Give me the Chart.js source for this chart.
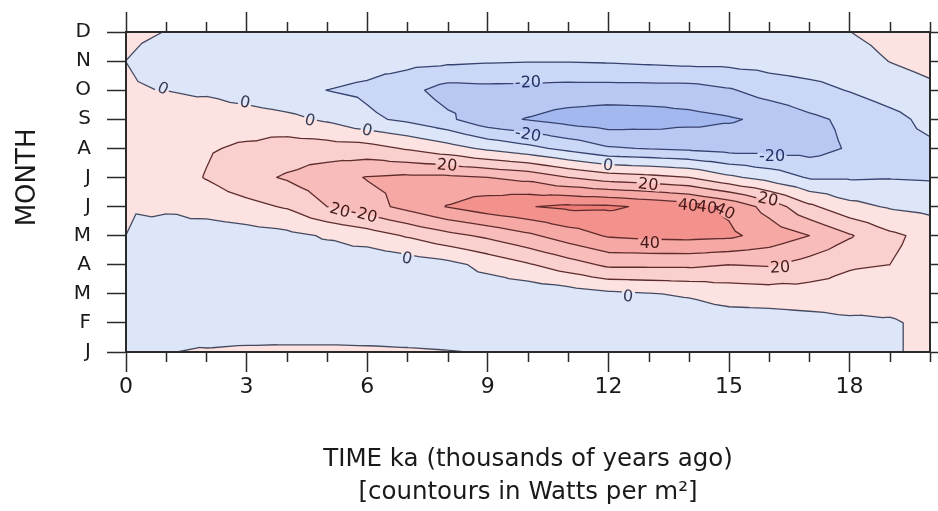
<!DOCTYPE html>
<html><head><meta charset="utf-8">
<script src="https://cdn.jsdelivr.net/npm/chart.js@4.4.1/dist/chart.umd.min.js"></script>
<style>html,body{margin:0;padding:0;background:#fff;}#wrap{width:938px;height:511px;}</style>
</head><body><div id="wrap"><canvas id="c" width="938" height="511" style="width:938px;height:511px"></canvas></div>
<script>
const FONT = "'DejaVu Sans', 'Open Sans', sans-serif";

// axes
const timeKa = [0,1,2,3,4,5,6,7,8,9,10,11,12,13,14,15,16,17,18,19,20];
const monthLabels = ['J','F','M','A','M','J','J','A','S','O','N','D'];
const xTickValues = [0,3,6,9,12,15,18];
const contourLevels = [-30,-20,-10,0,10,20,30,40,50];

// insolation anomaly (W/m^2), one array per month, by time (ka)
const janAnom = [-0.3,-0.3,0.8,1.5,1.8,1.8,1.5,1,0.4,-0.5,-3,-4,-5,-5,-4,-4,-3,-3,-2,-1,2];
const febAnom = [-0.4,-2.5,-5,-5,-5.5,-5.5,-5.5,-5.5,-6,-6,-6,-6.5,-7,-6.5,-6,-5,-5,-4,-2,-1,2];
const marAnom = [-0.4,-3,-5,-6,-6,-7,-7,-7,-6,-6.5,-7,-5,-2,-0.5,1,4,5,6,6,4,5];
const aprAnom = [-0.3,-3,-5,-6,-5,-6,-8,-6,-3,3,9,15.5,22,22,22,20,21,16,11,10,6];
const mayAnom = [-0.01,-3,-5.5,-4.3,-2.6,1,5,11,17,22,28,35,41,42.5,43,42,36,30,21,12,7];
const junAnom = [0.4,1,4,7,11,20,26,33,40.5,46,49.5,52,51.5,48.5,45,38,26,12,3,-1,-3];
const julAnom = [0.6,5,10.5,17,21,26,30.5,32,32,30,27,20,15,13,10,2,-4,-11,-11,-10.5,-11];
const augAnom = [0.6,4.5,9,11.6,15,14.5,13.7,9,4,-2,-7,-13,-19,-20.5,-22,-24,-24,-24,-19,-14,-12];
const sepAnom = [0.5,3,5.5,5,2.6,-1.5,-8,-12,-18,-27,-30.5,-34,-36,-35,-33,-31,-28,-22,-18,-13.3,-7];
const octAnom = [0.3,-0.1,-1.5,-5,-8,-10.05,-12,-17,-24,-23,-23.3,-24,-24,-24,-24,-21,-15.7,-13,-9.5,-5,-2];
const novAnom = [-0.01,-1,-1.5,-3,-4,-5,-6,-7,-8,-9,-9.5,-9.5,-9,-8,-7,-7,-6,-5,-4,0.2,3];
const decAnom = [0.5,-0.05,-0.5,-1,-1.5,-2,-2,-2.5,-3,-3,-3,-3,-3,-3,-3,-3,-3,-2,-0.1,3,6];

// contour labels
const labelText  = ['0','0','0','0','0','0','0','-20','-20','-20','20','20','20','20','20','40','40','40','40','20'];
const labelKa    = [0.92,2.96,4.58,6.0,11.99,6.99,12.49,10.0,10.0,16.07,7.99,12.99,15.97,5.32,6.0,13.98,14.45,14.9,13.03,16.27];
const labelMonth = [9.07,8.59,7.97,7.63,6.43,3.23,1.92,9.28,7.49,6.74,6.43,5.77,5.26,4.88,4.71,5.05,4.98,4.85,3.75,2.92];

const grid = [janAnom,febAnom,marAnom,aprAnom,mayAnom,junAnom,julAnom,augAnom,sepAnom,octAnom,novAnom,decAnom];
const labelAngle = [25,12,15,14,6,12,5,-2,10,0,5,6,12,16,16,5,8,25,0,-3];

const bandColors = ['#a3b8ef','#b8c8f3','#cbd7f6','#dde5f9','#fce2e1','#fad0cf','#f8bdba','#f5a8a4','#f3928d','#ee7b75'];

function fieldAt(k, m) {
  const nI = timeKa.length - 1, nJ = monthLabels.length - 1;
  let i = Math.min(Math.max(Math.floor(k), 0), nI - 1);
  let j = Math.min(Math.max(Math.floor(m), 0), nJ - 1);
  let u = Math.min(Math.max(k - i, 0), 1), v = Math.min(Math.max(m - j, 0), 1);
  const a = grid[j][i], b = grid[j][i+1], c = grid[j+1][i+1], d = grid[j+1][i];
  const e = (a + b + c + d) / 4;
  if (v <= u && u + v <= 1) return a + (b - a) * u + (2*e - a - b) * v;
  if (v <= u) return b + (c - b) * v + (u - 1) * (b + c - 2*e);
  if (u + v >= 1) return d + (c - d) * u + (v - 1) * (c + d - 2*e);
  return a + (d - a) * v + u * (2*e - a - d);
}
function bandOf(v) { let b = 0; while (b < contourLevels.length && v >= contourLevels[b]) b++; return b; }
function hexRgb(h) { return [parseInt(h.slice(1,3),16), parseInt(h.slice(3,5),16), parseInt(h.slice(5,7),16)]; }

const LABEL_FONT = `16px ${FONT}`;

const contourPlugin = {
  id: 'contour',
  beforeDraw(chart) {
    const ctx = chart.ctx, xs = chart.scales.x, ys = chart.scales.y;
    const {left, top, right, bottom} = chart.chartArea;
    const W = Math.round(right - left), H = Math.round(bottom - top);
    const off = document.createElement('canvas'); off.width = W; off.height = H;
    const octx = off.getContext('2d'); const img = octx.createImageData(W, H);
    const rgb = bandColors.map(hexRgb);
    for (let py = 0; py < H; py++) {
      const m = ys.getValueForPixel(top + py + 0.5);
      for (let px = 0; px < W; px++) {
        const k = xs.getValueForPixel(left + px + 0.5);
        const c = rgb[bandOf(fieldAt(k, m))];
        const idx = (py * W + px) * 4;
        img.data[idx] = c[0]; img.data[idx+1] = c[1]; img.data[idx+2] = c[2]; img.data[idx+3] = 255;
      }
    }
    octx.putImageData(img, 0, 0);
    ctx.drawImage(off, left, top);

    // label boxes
    ctx.font = LABEL_FONT;
    const boxes = labelText.map((t, n) => {
      const x = xs.getPixelForValue(labelKa[n]), y = ys.getPixelForValue(labelMonth[n]);
      const w = ctx.measureText(t).width + 3, h = 13;
      const a = labelAngle[n] * Math.PI / 180, ca = Math.cos(a), sa = Math.sin(a);
      const pts = [[-w/2,-h/2],[w/2,-h/2],[w/2,h/2],[-w/2,h/2]].map(([px,py]) => [x + px*ca - py*sa, y + px*sa + py*ca]);
      return {x, y, a, pts};
    });

    // contour lines (triangulated cells, linear within each triangle)
    ctx.save();
    ctx.beginPath();
    ctx.rect(left, top, right - left, bottom - top);
    boxes.forEach(b => { ctx.moveTo(b.pts[0][0], b.pts[0][1]); for (let q = 1; q < 4; q++) ctx.lineTo(b.pts[q][0], b.pts[q][1]); ctx.closePath(); });
    ctx.clip('evenodd');
    ctx.lineWidth = 1.3; ctx.lineCap = 'round';
    const P = (k, m) => [xs.getPixelForValue(k), ys.getPixelForValue(m)];
    contourLevels.forEach(L => {
      ctx.beginPath();
      for (let j = 0; j < monthLabels.length - 1; j++) {
        for (let i = 0; i < timeKa.length - 1; i++) {
          const a = grid[j][i], b = grid[j][i+1], c = grid[j+1][i+1], d = grid[j+1][i];
          const e = (a + b + c + d) / 4;
          const A = [timeKa[i], j], B = [timeKa[i+1], j], C = [timeKa[i+1], j+1], D = [timeKa[i], j+1];
          const E = [(timeKa[i] + timeKa[i+1]) / 2, j + 0.5];
          const tris = [[A,a,B,b,E,e],[B,b,C,c,E,e],[C,c,D,d,E,e],[D,d,A,a,E,e]];
          tris.forEach(t => {
            const pts = [[t[0], t[1]], [t[2], t[3]], [t[4], t[5]]].map(p => [p[0], p[1] === L ? L + 1e-6 : p[1]]);
            const cross = [];
            for (let s = 0; s < 3; s++) {
              const p1 = pts[s], p2 = pts[(s+1)%3];
              if ((p1[1] - L) * (p2[1] - L) < 0) {
                const f = (L - p1[1]) / (p2[1] - p1[1]);
                cross.push([p1[0][0] + f * (p2[0][0] - p1[0][0]), p1[0][1] + f * (p2[0][1] - p1[0][1])]);
              }
            }
            if (cross.length === 2) {
              const q1 = P(cross[0][0], cross[0][1]), q2 = P(cross[1][0], cross[1][1]);
              ctx.moveTo(q1[0], q1[1]); ctx.lineTo(q2[0], q2[1]);
            }
          });
        }
      }
      ctx.strokeStyle = L < 0 ? '#36426f' : (L === 0 ? '#454a60' : '#5e2c2c');
      ctx.stroke();
    });
    ctx.restore();

    // labels
    boxes.forEach((b, n) => {
      const t = labelText[n];
      ctx.save();
      ctx.translate(b.x, b.y); ctx.rotate(b.a);
      ctx.font = LABEL_FONT;
      ctx.textAlign = 'center'; ctx.textBaseline = 'middle';
      ctx.fillStyle = t === '0' ? '#353a55' : (t.startsWith('-') ? '#222f62' : '#431a1a');
      ctx.fillText(t, 0, 1);
      ctx.restore();
    });
  },
  afterDraw(chart) {
    const ctx = chart.ctx, xs = chart.scales.x, ys = chart.scales.y;
    const {top, bottom} = chart.chartArea;
    ctx.save();
    ctx.strokeStyle = '#2a2a2a'; ctx.lineWidth = 1.5;
    ctx.beginPath();
    timeKa.forEach(k => {
      if (xTickValues.includes(k)) return;
      const x = Math.round(xs.getPixelForValue(k)) + 0.5;
      ctx.moveTo(x, bottom); ctx.lineTo(x, bottom + 10);
      ctx.moveTo(x, top); ctx.lineTo(x, top - 10);
    });
    ctx.stroke();
    // y title
    ctx.translate(28, ys.getPixelForValue(6.0));
    ctx.rotate(-Math.PI / 2);
    ctx.font = `26px ${FONT}`; ctx.fillStyle = '#1a1a1a';
    ctx.textAlign = 'center'; ctx.textBaseline = 'middle';
    ctx.fillText('MONTH', 0, 0);
    ctx.restore();
  }
};

const axisGrid = {drawOnChartArea: false, tickColor: '#2a2a2a', tickWidth: 1.5};
const axisBorder = {color: '#2a2a2a', width: 2};

new Chart(document.getElementById('c'), {
  type: 'scatter',
  data: {datasets: [{data: [], pointRadius: 0}]},
  options: {
    responsive: false, animation: false, devicePixelRatio: 1,
    layout: {padding: 0},
    plugins: {legend: {display: false}, tooltip: {enabled: false}},
    scales: {
      x: {
        type: 'linear', position: 'bottom', min: 0, max: 20,
        afterBuildTicks: s => { s.ticks = xTickValues.map(v => ({value: v})); },
        ticks: {font: {family: FONT, size: 22}, color: '#1a1a1a', padding: 2, maxRotation: 0, autoSkip: false},
        grid: {...axisGrid, tickLength: 20},
        border: axisBorder,
        title: {display: true, text: ['TIME ka (thousands of years ago)', '[countours in Watts per m\u00B2]'],
                font: {family: FONT, size: 24.5, lineHeight: 1.35}, color: '#1a1a1a', padding: {top: 0, bottom: 1.5}},
        afterFit: s => { s.height = 159; }
      },
      x2: {
        type: 'linear', position: 'top', min: 0, max: 20,
        afterBuildTicks: s => { s.ticks = xTickValues.map(v => ({value: v})); },
        ticks: {display: false},
        grid: {...axisGrid, tickLength: 20},
        border: axisBorder,
        afterFit: s => { s.height = 32; }
      },
      y: {
        type: 'linear', position: 'left', min: 0, max: monthLabels.length - 1,
        afterBuildTicks: s => { s.ticks = monthLabels.map((_, i) => ({value: i})); },
        ticks: {font: {family: FONT, size: 20}, color: '#1a1a1a', padding: 16, autoSkip: false, callback: v => monthLabels[v]},
        grid: {...axisGrid, tickLength: 19},
        border: axisBorder,
        afterFit: s => { s.width = 126; }
      },
      y2: {
        type: 'linear', position: 'right', min: 0, max: monthLabels.length - 1,
        afterBuildTicks: s => { s.ticks = monthLabels.map((_, i) => ({value: i})); },
        ticks: {display: false},
        grid: {...axisGrid, tickLength: 8},
        border: axisBorder,
        afterFit: s => { s.width = 8; }
      }
    }
  },
  plugins: [contourPlugin]
});
</script></body></html>
